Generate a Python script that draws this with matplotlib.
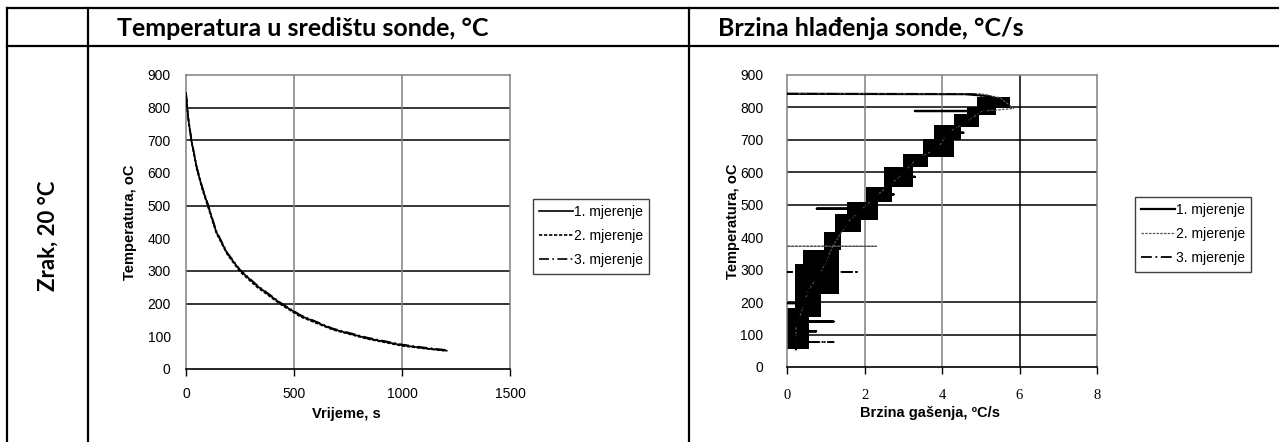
import matplotlib
matplotlib.use('Agg')
import matplotlib.pyplot as plt

# ---- data: temperatura u sredistu sonde (lijevi graf) ----
t1 = [0, 10, 25, 50, 75, 100, 140, 190, 250, 330, 440, 530, 680, 840, 1000, 1100, 1207]
T1 = [845, 770, 700, 615, 555, 505, 420, 355, 302, 254, 200, 163, 122, 94, 73, 64, 56]
t2 = [0, 10, 25, 50, 75, 100, 140, 190, 250, 330, 440, 530, 680, 840, 1000, 1100, 1195]
T2 = [843, 767, 697, 612, 551, 500, 417, 352, 298, 250, 197, 160, 120, 92, 71, 63, 56]
t3 = [0, 10, 25, 50, 75, 100, 140, 190, 250, 330, 440, 530, 680, 840, 1000, 1100, 1210]
T3 = [846, 772, 703, 618, 558, 508, 423, 357, 304, 256, 202, 165, 124, 96, 75, 66, 58]

# ---- data: brzina hladenja (desni graf) ----
# gusti "blokovi" mjerenja (temperatura od-do, brzina od-do)
blk_top = [832, 800, 781, 745, 704, 658, 617, 555, 509, 473, 416, 360, 319, 182]
blk_bot = [797, 776, 740, 700, 647, 617, 555, 509, 452, 416, 360, 226, 154, 55]
blk_lo = [4.9, 4.65, 4.3, 3.8, 3.5, 3.0, 2.5, 2.05, 1.55, 1.25, 0.95, 0.42, 0.2, 0.0]
blk_hi = [5.75, 5.4, 4.95, 4.5, 4.3, 3.65, 3.25, 2.7, 2.35, 1.9, 1.4, 1.35, 0.87, 0.57]

r1 = [0, 4.6, 5.2, 5.5, 5.3, 5.05, 3.3, 5.05, 4.65, 4.15, 4.55, 4.15, 3.9, 3.35, 2.9,
      3.3, 2.9, 2.35, 2.75, 2.35, 1.95, 0.77, 1.95, 1.57, 2.3, 1.57, 1.18, 0.88, 0.55,
      0.4, 0.0, 0.4, 0.23, 1.2, 0.23, 0.23, 0.75, 0.23, 0.23]
Tr1 = [842, 841, 835, 822, 805, 789, 789, 789, 758, 722, 722, 722, 675, 642, 586,
       586, 586, 532, 532, 532, 488, 488, 488, 462, 462, 462, 388, 293, 236,
       197, 197, 197, 140, 140, 140, 110, 110, 110, 55]
r2 = [0, 5.0, 5.5, 5.85, 5.4, 5.05, 4.65, 4.15, 3.9, 3.35, 2.9, 2.35, 1.95, 1.57, 1.18,
      2.3, 0.0, 1.18, 0.88, 0.55, 0.23, 0.23]
Tr2 = [843, 842, 830, 797, 792, 789, 758, 722, 675, 642, 586, 532, 488, 447, 372,
       372, 372, 372, 293, 236, 118, 58]
r3 = [0, 4.8, 5.4, 5.6, 5.2, 4.65, 4.15, 3.9, 3.35, 2.9, 2.35, 1.95, 1.57, 1.18, 0.88,
      1.8, 0.0, 0.88, 0.55, 1.2, 0.55, 0.23, 0.23, 1.2, 0.23, 0.23]
Tr3 = [842, 841, 828, 812, 795, 758, 722, 675, 642, 586, 532, 488, 447, 388, 293,
       293, 293, 293, 236, 236, 236, 118, 77, 77, 77, 58]

series_names = ['1. mjerenje', '2. mjerenje', '3. mjerenje']
y_ticks = list(range(0, 1000, 100))
grid_left = [200, 300, 500, 700, 800]
grid_right = [100, 200, 500, 600, 700, 800]

plt.rcParams['font.family'] = ['Liberation Sans', 'DejaVu Sans']
FS = 10

fig = plt.figure(figsize=(12.79, 4.42), dpi=100)

# ---- tablica (okvir) u pikselima ----
bg = fig.add_axes([0, 0, 1, 1], zorder=-5)
bg.set_xlim(0, 1279)
bg.set_ylim(442, 0)
bg.axis('off')
for yy in [8, 46]:
    bg.plot([7, 1279], [yy, yy], color='black', lw=1.6)
for xx in [7, 88, 689]:
    bg.plot([xx, xx], [8, 442], color='black', lw=1.6)
hdr = dict(fontsize=18, fontweight='bold', family=['Lato', 'DejaVu Sans'], va='center')
bg.text(117, 28, 'Temperatura u središtu sonde, °C', **hdr)
bg.text(718, 28, 'Brzina hlađenja sonde, °C/s', **hdr)
bg.text(48, 236, 'Zrak, 20 °C', rotation=90, ha='center', fontsize=16,
        fontweight='bold', family=['Lato', 'DejaVu Sans'], va='center')


def style_axes(ax, grid_levels, vgrid):
    ax.set_ylim(0, 900)
    ax.set_yticks(y_ticks)
    ax.set_yticks(grid_levels, minor=True)
    ax.tick_params(axis='y', which='major', length=0, labelsize=FS)
    ax.tick_params(axis='y', which='minor', length=5, width=1, direction='out')
    ax.tick_params(axis='x', length=5, width=1, direction='out', labelsize=FS)
    for lvl in grid_levels:
        ax.axhline(lvl, color='black', lw=1.1, zorder=1)
    for xv, col in vgrid:
        ax.axvline(xv, color=col, lw=1.1, zorder=1)
    for s in ['top', 'right', 'left']:
        ax.spines[s].set_color('#808080')
        ax.spines[s].set_linewidth(1.1)
    ax.spines['bottom'].set_color('black')
    ax.spines['bottom'].set_linewidth(1.2)


leg_kw = dict(loc='upper left', fontsize=FS, frameon=True, fancybox=False,
              edgecolor='#404040', framealpha=1, handlelength=2.4,
              handletextpad=0.1, labelspacing=0.72, borderpad=0.45,
              borderaxespad=0)

# ---- lijevi graf ----
ax1 = fig.add_axes([186 / 1279, 1 - 369 / 442, 324 / 1279, 294 / 442])
style_axes(ax1, grid_left, [(500, '#808080'), (1000, '#808080')])
ax1.set_xlim(0, 1500)
ax1.set_xticks([0, 500, 1000, 1500])
ax1.tick_params(axis='y', which='major', pad=11)
ax1.tick_params(axis='x', pad=8)
h1, = ax1.plot(t1, T1, color='black', lw=1.2, ls='-', zorder=3)
h2, = ax1.plot(t2, T2, color='black', lw=1.2, ls=(0, (2, 1)), zorder=3)
h3, = ax1.plot(t3, T3, color='black', lw=1.2, ls=(0, (6, 2, 1, 2)), zorder=3)
ax1.set_ylabel('Temperatura, oC', fontsize=10.5, fontweight='bold')
ax1.yaxis.set_label_coords(-0.15, 0.5)
ax1.set_xlabel('Vrijeme, s', fontsize=10.5, fontweight='bold')
ax1.xaxis.set_label_coords(0.494, -0.13)
fig.legend([h1, h2, h3], series_names,
           bbox_to_anchor=(533 / 1279, 1 - 199 / 442), **leg_kw)

# ---- desni graf ----
ax2 = fig.add_axes([787 / 1279, 1 - 367 / 442, 310 / 1279, 292 / 442])
style_axes(ax2, grid_right, [(2, '#808080'), (4, '#808080'), (6, 'black')])
ax2.set_xlim(0, 8)
ax2.set_xticks([0, 2, 4, 6, 8])
ax2.tick_params(axis='y', which='major', pad=17)
ax2.tick_params(axis='x', pad=11, labelsize=10.5)
for lab in ax2.get_xticklabels():
    lab.set_family('Liberation Serif')
for top, bot, lo, hi in zip(blk_top, blk_bot, blk_lo, blk_hi):
    ax2.barh((top + bot) / 2, hi - lo, left=lo, height=top - bot,
             color='black', edgecolor='none', zorder=2)
g1, = ax2.plot(r1, Tr1, color='black', lw=1.6, ls='-', zorder=3)
g2, = ax2.plot(r2, Tr2, color='#555555', lw=0.9, ls=(0, (2, 1)), zorder=3)
g3, = ax2.plot(r3, Tr3, color='black', lw=1.3, ls=(0, (6, 2, 1, 2)), zorder=3)
ax2.set_ylabel('Temperatura, oC', fontsize=10.5, fontweight='bold')
ax2.yaxis.set_label_coords(-0.15, 0.5)
ax2.set_xlabel('Brzina gašenja, ºC/s', fontsize=10.5, fontweight='bold')
ax2.xaxis.set_label_coords(0.46, -0.135)
fig.legend([g1, g2, g3], series_names,
           bbox_to_anchor=(1135 / 1279, 1 - 197 / 442), **leg_kw)

fig.savefig('out.png', dpi=100)
